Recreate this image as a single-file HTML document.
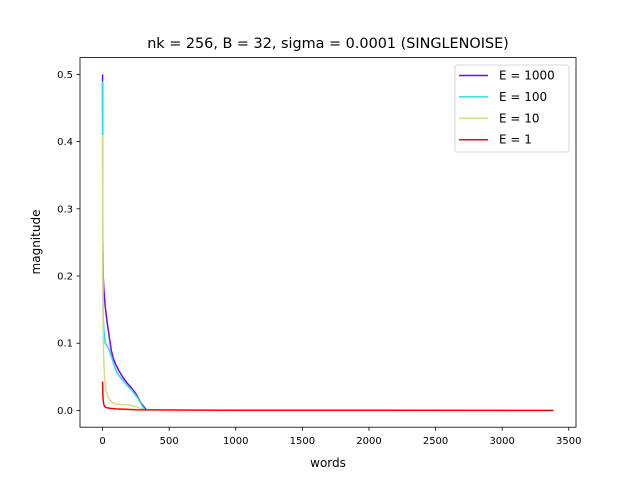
<!DOCTYPE html>
<html><head><meta charset="utf-8"><style>
body{margin:0;background:#fff}
svg text{font-family:"DejaVu Sans","Liberation Sans",sans-serif;fill:#000}
</style></head><body>
<svg id="chart" width="640" height="480" viewBox="0 0 640 480" xmlns="http://www.w3.org/2000/svg">
<rect width="640" height="480" fill="#fff"/>
<text x="328" y="48" font-size="14.4" text-anchor="middle">nk = 256, B = 32, sigma = 0.0001 (SINGLENOISE)</text>
<g id="plot"></g>
<rect x="80" y="57.6" width="496" height="369.6" fill="none" stroke="#000" stroke-width="0.8"/>
<text x="328" y="467" font-size="12" text-anchor="middle">words</text>
<text transform="translate(40,242) rotate(-90)" font-size="12" text-anchor="middle">magnitude</text>
<g id="legend"></g>
</svg>
<script>
const xTicks=[0,500,1000,1500,2000,2500,3000,3500];
const yTicks=[0.0,0.1,0.2,0.3,0.4,0.5];
const seriesLabels=["E = 1000","E = 100","E = 10","E = 1"];
const seriesColors=["#8000ff","#2adddd","#d4dd80","#ff0000"];
const x1000=[0,1,2,5,10,20,35,50,65,80,100,120,150,180,210,250,285,320,330];
const y1000=[0.50,0.40,0.25,0.20,0.18,0.155,0.13,0.11,0.09,0.078,0.068,0.06,0.05,0.042,0.035,0.025,0.012,0.003,0.0];
const x100=[0,1,2,5,10,20,30,50,70,90,110,130,165,190,220,265,300,320];
const y100=[0.49,0.41,0.26,0.14,0.12,0.10,0.098,0.09,0.078,0.065,0.056,0.05,0.042,0.036,0.030,0.018,0.006,0.0];
const x10=[0,1,2,4,8,15,25,40,60,90,120,200,260,300,330];
const y10=[0.41,0.30,0.20,0.13,0.08,0.05,0.03,0.02,0.014,0.01,0.009,0.008,0.005,0.002,0.0];
const x1=[0,3,8,15,30,60,120,250,500,1000,3385];
const y1=[0.043,0.02,0.01,0.006,0.004,0.003,0.002,0.001,0.0005,0.0002,0.0001];
const xsData=[x1000,x100,x10,x1], ysData=[y1000,y100,y10,y1];
const X0=80,X1=576,Y0=427.2,Y1=57.6,xmin=-169.25,xmax=3554.25,ymin=-0.025,ymax=0.525;
const sx=v=>X0+(v-xmin)/(xmax-xmin)*(X1-X0);
const sy=v=>Y0-(v-ymin)/(ymax-ymin)*(Y0-Y1);
const NS="http://www.w3.org/2000/svg";
const svg=document.getElementById('chart');
const plot=document.getElementById('plot');
function mk(t,a,p){const e=document.createElementNS(NS,t);for(const k in a)e.setAttribute(k,a[k]);(p||svg).appendChild(e);return e;}
xTicks.forEach(t=>{
 const l=mk('line',{x1:sx(t),x2:sx(t),y1:Y0,y2:Y0+3.5,stroke:'#000','stroke-width':0.8});
 
 
 const tx=mk('text',{x:sx(t),y:Y0+17,'font-size':10,'text-anchor':'middle'});tx.textContent=t;
 
 
});
yTicks.forEach(t=>{
 const l=mk('line',{x1:X0-3.5,x2:X0,y1:sy(t),y2:sy(t),stroke:'#000','stroke-width':0.8});
 
 
 const tx=mk('text',{x:X0-7,y:sy(t)+3.5,'font-size':10,'text-anchor':'end'});tx.textContent=t.toFixed(1);
 
 
});
xsData.forEach((xs,i)=>{
 const d=xs.map((x,j)=>(j?'L':'M')+sx(x).toFixed(2)+','+sy(ysData[i][j]).toFixed(2)).join('');
 const p=mk('path',{d:d,fill:'none',stroke:seriesColors[i],'stroke-width':1.5},plot);
 
 
});
const lg=document.getElementById('legend');
const box=mk('rect',{x:455,y:65,width:114,height:87,rx:2,fill:'#fff',stroke:'#ccc','stroke-width':0.8},lg);


seriesLabels.forEach((s,i)=>{
 const y=75.5+i*21.4;
 const l=mk('line',{x1:459,x2:488,y1:y,y2:y,stroke:seriesColors[i],'stroke-width':1.5},lg);
 
 
 const t=mk('text',{x:499,y:y+4,'font-size':12},lg);t.textContent=s;
 
 
});
</script>
</body></html>
